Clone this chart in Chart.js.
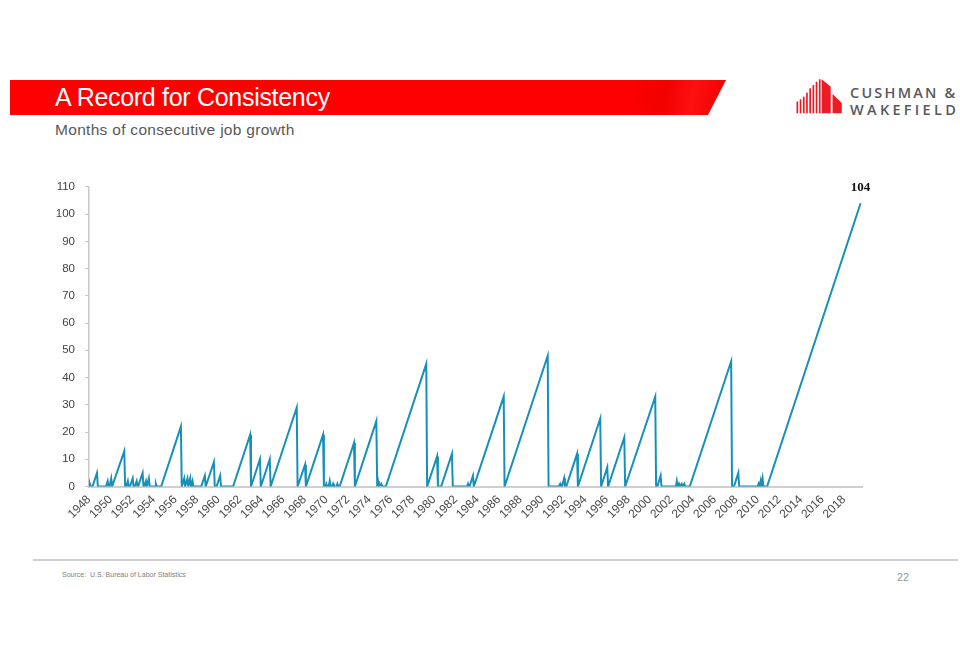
<!DOCTYPE html>
<html>
<head>
<meta charset="utf-8">
<script src="https://cdn.jsdelivr.net/npm/chart.js@4.4.1/dist/chart.umd.min.js"></script>
<style>
  html, body { margin: 0; padding: 0; background: #fff; }
  body { width: 960px; height: 654px; position: relative; overflow: hidden; font-family: "Liberation Sans", Arial, sans-serif; }
  .banner {
    position: absolute; left: 10px; top: 80px; width: 716px; height: 35px;
    background: linear-gradient(100deg, #ff0000 0%, #ff0000 86%, #f20000 91%, #ff1010 95%, #ee0000 100%);
    clip-path: polygon(0 0, 716px 0, 698px 35px, 0 35px);
  }
  .title {
    position: absolute; left: 55px; top: 83px; color: #fff;
    font-size: 25px; letter-spacing: -0.3px; white-space: nowrap;
  }
  .subtitle {
    position: absolute; left: 55px; top: 121px; color: #595959;
    font-size: 15.5px; letter-spacing: 0.3px; white-space: nowrap;
  }
  .logo-text {
    position: absolute; left: 850px; top: 85px; color: #58595b;
    font-family: "Open Sans", sans-serif; font-weight: 600;
    font-size: 14.5px; line-height: 16.5px; letter-spacing: 2.2px; white-space: nowrap;
  }
  .logo-text .wide { letter-spacing: 3.3px; }
  .footer-line { position: absolute; left: 33px; top: 559px; width: 925px; height: 2px; background: #d0d0d0; }
  .source { position: absolute; left: 62px; top: 571px; font-size: 7px; color: #808080; }
  .page { position: absolute; left: 897px; top: 571px; font-size: 11px; color: #999; }
  #chartWrap { position: absolute; left: 30px; top: 170px; width: 840px; height: 378px; }
</style>
</head>
<body>
<div class="banner"></div>
<div class="title">A Record for Consistency</div>
<div class="subtitle">Months of consecutive job growth</div>

<svg style="position:absolute;left:790px;top:75px" width="56" height="42" viewBox="790 75 56 42">
  <g fill="#ec1c24">
    <rect x="796.5" y="101.5" width="1.7" height="11.8"/>
    <rect x="799.7" y="99.3" width="1.7" height="14"/>
    <rect x="802.9" y="96.7" width="1.7" height="16.6"/>
    <rect x="806.1" y="92.7" width="1.7" height="20.6"/>
    <rect x="809.3" y="88.3" width="1.7" height="25"/>
    <rect x="812.5" y="85" width="1.7" height="28.3"/>
    <rect x="815.7" y="81.7" width="1.7" height="31.6"/>
    <rect x="818.9" y="79.3" width="1.7" height="34"/>
    <polygon points="821.7,79.3 830.7,86.7 830.7,113.3 821.7,113.3"/>
    <polygon points="832.5,94 841.8,103 841.8,113.3 832.5,113.3"/>
  </g>
</svg>
<div class="logo-text">CUSHMAN &amp;<br><span class="wide">WAKEFIELD</span></div>

<div id="chartWrap"><canvas id="jobChart"></canvas></div>

<div class="footer-line"></div>
<div class="source">Source:&nbsp; U.S. Bureau of Labor Statistics</div>
<div class="page">22</div>

<script>
// Vertices of the streak line: year (decimal) and months of consecutive growth
const vertexYears = [
  1948.00, 1948.08, 1948.16, 1948.32, 1948.74, 1948.82, 1949.57, 1949.73, 1949.81, 1949.90,
  1950.06, 1950.14, 1950.19, 1951.27, 1951.35, 1951.45, 1951.60, 1951.68, 1951.80, 1952.05,
  1952.13, 1952.25, 1952.42, 1952.50, 1952.55, 1952.97, 1953.05, 1953.12, 1953.28, 1953.36,
  1953.55, 1953.63, 1954.12, 1954.20, 1954.28, 1954.69, 1956.52, 1956.60, 1956.83, 1956.91,
  1957.13, 1957.21, 1957.38, 1957.46, 1957.60, 1957.68, 1958.40, 1958.74, 1958.82, 1959.58,
  1959.66, 1959.83, 1960.16, 1960.24, 1961.36, 1962.94, 1963.02, 1963.85, 1963.93, 1964.76,
  1964.84, 1967.26, 1967.34, 1968.03, 1968.11, 1969.70, 1969.78, 1969.92, 1970.00, 1970.08,
  1970.22, 1970.32, 1970.40, 1970.55, 1970.63, 1970.71, 1970.95, 1971.03, 1971.11, 1971.24,
  1972.57, 1972.65, 1974.64, 1974.72, 1974.80, 1974.88, 1975.10, 1975.18, 1975.52, 1979.27,
  1979.35, 1980.27, 1980.35, 1980.65, 1981.65, 1981.73, 1983.06, 1983.14, 1983.22, 1983.28,
  1983.60, 1983.68, 1986.45, 1986.53, 1990.53, 1990.61, 1991.55, 1991.68, 1991.76, 1991.85,
  1992.05, 1992.13, 1992.25, 1993.25, 1993.33, 1995.40, 1995.48, 1996.05, 1996.13, 1997.63,
  1997.71, 2000.50, 2000.58, 2000.70, 2001.00, 2001.08, 2002.42, 2002.50, 2002.58, 2002.70,
  2002.78, 2002.95, 2003.03, 2003.20, 2003.28, 2003.70, 2007.54, 2007.62, 2007.80, 2008.20,
  2008.28, 2009.98, 2010.08, 2010.16, 2010.27, 2010.33, 2010.45, 2010.53, 2010.87, 2019.54
];
const streakMonths = [
  0, 1, 0, 0, 5, 0, 0, 2, 0, 0,
  3, 0, 0, 13, 0, 0, 2, 0, 0, 3,
  0, 0, 2, 0, 0, 5, 0, 0, 2, 0,
  3, 0, 0, 1, 0, 0, 22, 0, 3, 0,
  3, 0, 3, 0, 2, 0, 0, 4, 0, 9,
  0, 0, 4, 0, 0, 19, 0, 10, 0, 10,
  0, 29, 0, 8, 0, 19, 0, 0, 1, 0,
  0, 2, 0, 0, 1, 0, 0, 1, 0, 0,
  16, 0, 24, 0, 2, 0, 1, 0, 0, 45,
  0, 11, 0, 0, 12, 0, 0, 1, 0, 0,
  4, 0, 33, 0, 48, 0, 0, 1, 0, 0,
  3, 0, 0, 12, 0, 25, 0, 7, 0, 18,
  0, 33, 0, 0, 4, 0, 0, 2, 0, 1,
  0, 1, 0, 1, 0, 0, 46, 0, 0, 5,
  0, 0, 1, 0, 2, 0, 3, 0, 0, 104
];
const yearTicks = [
  1948, 1950, 1952, 1954, 1956, 1958, 1960, 1962, 1964, 1966, 1968, 1970,
  1972, 1974, 1976, 1978, 1980, 1982, 1984, 1986, 1988, 1990, 1992, 1994,
  1996, 1998, 2000, 2002, 2004, 2006, 2008, 2010, 2012, 2014, 2016, 2018
];
const monthTicks = [0, 10, 20, 30, 40, 50, 60, 70, 80, 90, 100, 110];

const points = vertexYears.map((yr, i) => ({ x: yr, y: streakMonths[i] }));

// label the latest value above the end of the line
const endLabel = {
    id: 'endLabel',
    afterDatasetsDraw(chart) {
        const meta = chart.getDatasetMeta(0);
        const last = meta.data[meta.data.length - 1];
        const ctx = chart.ctx;
        ctx.save();
        ctx.font = 'bold 13px "Liberation Serif", serif';
        ctx.fillStyle = '#111';
        ctx.textAlign = 'center';
        ctx.textBaseline = 'middle';
        ctx.fillText(String(streakMonths[streakMonths.length - 1]), last.x, last.y - 16);
        ctx.restore();
    }
};

new Chart(document.getElementById('jobChart'), {
    type: 'line',
    data: {
        datasets: [{
            data: points,
            borderColor: '#1790b9',
            borderWidth: 2,
            pointRadius: 0,
            tension: 0,
            fill: false
        }]
    },
    options: {
        responsive: true,
        maintainAspectRatio: false,
        animation: false,
        layout: { padding: { top: 4, right: 8, left: 0, bottom: 0 } },
        plugins: { legend: { display: false }, tooltip: { enabled: false } },
        scales: {
            x: {
                type: 'linear',
                min: 1948,
                max: 2019.67,
                afterBuildTicks: s => { s.ticks = yearTicks.map(v => ({ value: v })); },
                afterFit: s => { s.height = 61.5; },
                grid: { display: false, drawTicks: false },
                border: { display: true, color: '#cfcfcf', width: 2 },
                ticks: {
                    autoSkip: false,
                    minRotation: 45,
                    maxRotation: 45,
                    padding: 6,
                    color: '#4a4a4a',
                    font: { family: '"Liberation Sans", Arial, sans-serif', size: 12 },
                    callback: v => String(v)
                }
            },
            y: {
                min: 0,
                max: 110,
                afterBuildTicks: s => { s.ticks = monthTicks.map(v => ({ value: v })); },
                afterFit: s => { s.width = 59; },
                grid: { drawOnChartArea: false, drawTicks: true, tickLength: 4, color: '#c8c8c8' },
                border: { display: true, color: '#c8c8c8', width: 1.5 },
                ticks: {
                    padding: 10,
                    color: '#444',
                    font: { family: '"Liberation Sans", Arial, sans-serif', size: 11.5 }
                }
            }
        }
    },
    plugins: [endLabel]
});
</script>
</body>
</html>
